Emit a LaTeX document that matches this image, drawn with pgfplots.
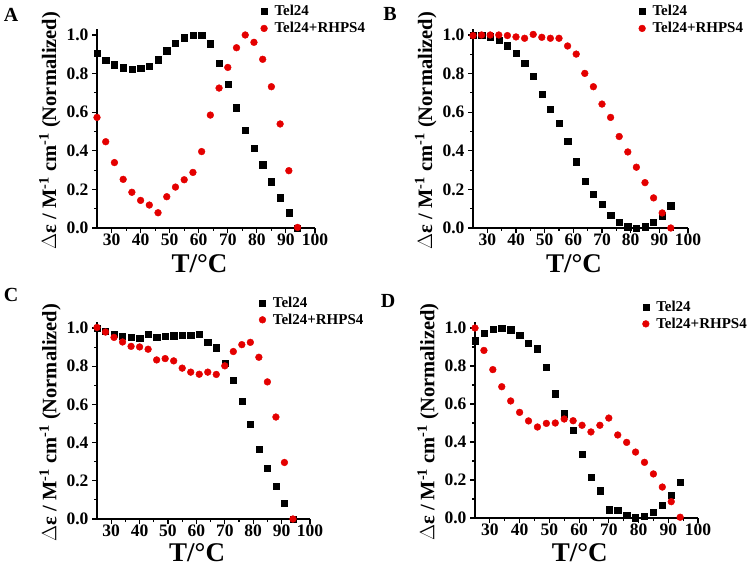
\documentclass[border=0pt]{standalone}
\usepackage{fontspec}
\setmainfont{Liberation Serif}
\usepackage{pgfplots}
\pgfplotsset{compat=1.18}
\definecolor{myred}{RGB}{228,0,0}
\pgfplotsset{
  panel/.style={
    scale only axis,
    axis lines*=left,
    axis line style={line width=1.3pt},
    tick align=outside,
    major tick length=5pt,
    minor tick length=3pt,
    every tick/.style={line width=1.1pt, black},
    xmin=25, xmax=100, ymin=0, ymax=1.03,
    xtick={30,40,...,100},
    ytick={0,0.2,...,1.0},
    minor x tick num=1,
    minor y tick num=1,
    /pgf/number format/assume math mode=true,
    tick label style={font=\fontsize{17.5}{17.5}\selectfont\bfseries},
    xticklabel style={inner sep=1pt},
    yticklabel style={/pgf/number format/.cd, fixed, fixed zerofill, precision=1},
    xticklabel style={/pgf/number format/.cd, fixed, precision=0},
    ylabel={$\Delta$ε / M\textsuperscript{-1} cm\textsuperscript{-1} (Normalized)},
    ylabel style={font=\fontsize{20.5}{20.5}\selectfont\bfseries, anchor=center, rotate=0},
    xlabel={T/°C},
    xlabel style={font=\fontsize{27}{27}\selectfont\bfseries, anchor=center, inner sep=0pt},
    clip=false,
    legend cell align=left,
    legend image code/.code={\draw[#1] plot coordinates {(0pt,0pt)};},
    legend style={draw=none, fill=none, font=\fontsize{15}{15}\selectfont\bfseries, anchor=north west, row sep=1pt, inner sep=0pt,
      column sep=5pt, nodes={inner sep=2pt}},
  },
  sq/.style={only marks, mark=square*, mark size=3.1pt, color=black},
  ci/.style={only marks, mark=*, mark size=3.4pt, color=myred},
}
\begin{document}
\begin{tikzpicture}[x=1pt,y=1pt]
\useasboundingbox (0,0) rectangle (755,571);
% Panel A
\begin{axis}[panel, at={(97pt,343pt)}, anchor=south west, width=218pt, height=198.8pt,
  ylabel style={at={(axis description cs:-0.216,0.49)}},
  xlabel style={at={(axis description cs:0.47,-0.18)}},
  legend style={at={(axis description cs:0.75,1.13)}}]
\addplot[sq] coordinates {(25,0.905)(28,0.869)(31,0.846)(34,0.831)(37,0.824)(40,0.827)(43,0.839)(46,0.872)(49,0.919)(52,0.957)(55,0.986)(58,1.0)(61,0.997)(64,0.955)(67,0.855)(70,0.744)(73,0.623)(76,0.506)(79,0.415)(82,0.328)(85,0.240)(88,0.157)(91,0.079)(94,0.0)};
\addplot[ci] coordinates {(25,0.573)(28,0.447)(31,0.339)(34,0.252)(37,0.185)(40,0.143)(43,0.119)(46,0.079)(49,0.162)(52,0.212)(55,0.250)(58,0.288)(61,0.396)(64,0.585)(67,0.725)(70,0.832)(73,0.934)(76,1.0)(79,0.962)(82,0.874)(85,0.732)(88,0.539)(91,0.297)(94,0.003)};
\legend{Tel24,Tel24+RHPS4}
\end{axis}
% Panel B
\begin{axis}[panel, at={(473pt,343pt)}, anchor=south west, width=215pt, height=198.8pt,
  ylabel style={at={(axis description cs:-0.22,0.49)}},
  xlabel style={at={(axis description cs:0.47,-0.18)}},
  legend style={at={(axis description cs:0.77,1.13)}}]
\addplot[sq] coordinates {(25,1.0)(28,1.0)(31,0.991)(34,0.974)(37,0.945)(40,0.905)(43,0.853)(46,0.787)(49,0.694)(52,0.614)(55,0.545)(58,0.450)(61,0.344)(64,0.242)(67,0.176)(70,0.125)(73,0.066)(76,0.029)(79,0.007)(82,0.0)(85,0.007)(88,0.031)(91,0.064)(94,0.116)};
\addplot[ci] coordinates {(25,0.997)(28,1.0)(31,1.0)(34,1.0)(37,0.997)(40,0.990)(43,0.983)(46,1.003)(49,0.988)(52,0.983)(55,0.983)(58,0.943)(61,0.901)(64,0.801)(67,0.732)(70,0.642)(73,0.573)(76,0.474)(79,0.394)(82,0.315)(85,0.235)(88,0.156)(91,0.078)(94,0.0)};
\legend{Tel24,Tel24+RHPS4}
\end{axis}
% Panel C
\begin{axis}[panel, at={(97pt,52pt)}, anchor=south west, width=213pt, height=196.7pt,
  ylabel style={at={(axis description cs:-0.22,0.49)}},
  xlabel style={at={(axis description cs:0.47,-0.17)}},
  legend style={at={(axis description cs:0.76,1.14)}}]
\addplot[sq] coordinates {(25,1.0)(28,0.984)(31,0.967)(34,0.957)(37,0.950)(40,0.946)(43,0.967)(46,0.950)(49,0.957)(52,0.960)(55,0.962)(58,0.962)(61,0.967)(64,0.925)(67,0.897)(70,0.817)(73,0.727)(76,0.616)(79,0.496)(82,0.367)(85,0.266)(88,0.172)(91,0.083)(94,0.0)};
\addplot[ci] coordinates {(25,1.003)(28,0.979)(31,0.951)(34,0.927)(37,0.904)(40,0.901)(43,0.889)(46,0.833)(49,0.840)(52,0.828)(55,0.790)(58,0.769)(61,0.758)(64,0.769)(67,0.757)(70,0.802)(73,0.877)(76,0.913)(79,0.925)(82,0.847)(85,0.718)(88,0.534)(91,0.296)(94,0.0)};
\legend{Tel24,Tel24+RHPS4}
\end{axis}
% Panel D
\begin{axis}[panel, at={(475pt,53pt)}, anchor=south west, width=223pt, height=195.7pt,
  ylabel style={at={(axis description cs:-0.21,0.49)}},
  xlabel style={at={(axis description cs:0.47,-0.175)}},
  legend style={at={(axis description cs:0.75,1.12)}}]
\addplot[sq] coordinates {(25,0.933)(28,0.974)(31,0.995)(34,1.0)(37,0.991)(40,0.963)(43,0.918)(46,0.891)(49,0.793)(52,0.654)(55,0.549)(58,0.461)(61,0.335)(64,0.214)(67,0.144)(70,0.044)(73,0.042)(76,0.014)(79,0.002)(82,0.009)(85,0.030)(88,0.067)(91,0.119)(94,0.188)};
\addplot[ci] coordinates {(25,1.0)(28,0.882)(31,0.781)(34,0.691)(37,0.616)(40,0.556)(43,0.511)(46,0.479)(49,0.498)(52,0.500)(55,0.521)(58,0.512)(61,0.488)(64,0.453)(67,0.488)(70,0.526)(73,0.437)(76,0.398)(79,0.347)(82,0.293)(85,0.232)(88,0.163)(91,0.086)(94,0.004)};
\legend{Tel24,Tel24+RHPS4}
\end{axis}
\node[font=\fontsize{20}{20}\selectfont\bfseries] at (11,556) {A};
\node[font=\fontsize{20}{20}\selectfont\bfseries] at (390,557) {B};
\node[font=\fontsize{20}{20}\selectfont\bfseries] at (11,276) {C};
\node[font=\fontsize{20}{20}\selectfont\bfseries] at (388,270) {D};
\end{tikzpicture}
\end{document}
